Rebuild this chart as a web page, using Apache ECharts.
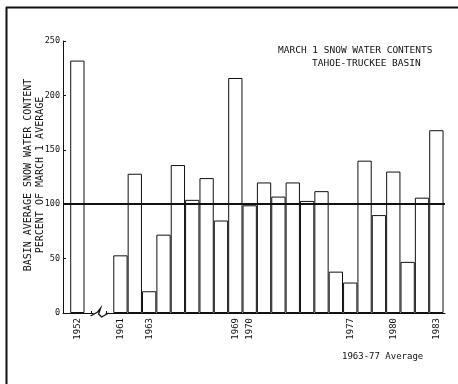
<!DOCTYPE html>
<html>
<head>
<meta charset="utf-8">
<script src="https://cdn.jsdelivr.net/npm/echarts@6/dist/echarts.min.js"></script>
<style>
  html, body { margin: 0; padding: 0; background: #fff; }
  #chart { width: 458px; height: 384px; }
</style>
</head>
<body>
<div id="chart"></div>
<script>
// March 1 snow water content, Tahoe-Truckee basin, percent of 1963-77 average
const years = ['1952', '1961', '1962', '1963', '1964', '1965', '1966', '1967', '1968',
  '1969', '1970', '1971', '1972', '1973', '1974', '1975', '1976', '1977', '1978',
  '1979', '1980', '1981', '1982', '1983'];
const percentOfAverage = [232, 53, 128, 20, 72, 136, 104, 124, 85,
  216, 99, 120, 107, 120, 103, 112, 38, 28, 140,
  90, 130, 47, 106, 168];
const labelledYears = ['1952', '1961', '1963', '1969', '1970', '1977', '1980', '1983'];
const yTicks = [0, 50, 100, 150, 200, 250];
const averageLevel = 100;

// Empty slots left on the axis for the 1952 -> 1961 break
const BREAK_SLOTS = 2;
function slotOf(i) { return i === 0 ? 0 : i + BREAK_SLOTS; }
const slotYear = {};
years.forEach((y, i) => { slotYear[slotOf(i)] = y; });

const FONT = '"DejaVu Sans Mono", monospace';
const INK = '#111';

const chart = echarts.init(document.getElementById('chart'), null, { renderer: 'canvas' });

chart.setOption({
  animation: false,
  backgroundColor: '#fff',
  grid: { left: 63, right: 13, top: 41, bottom: 71, containLabel: false },
  title: [
    { text: 'MARCH 1 SNOW WATER CONTENTS', left: 273, top: 41,
      textStyle: { fontFamily: FONT, fontSize: 9.5, fontWeight: 'normal', color: INK } },
    { text: 'TAHOE-TRUCKEE BASIN', left: 307, top: 54,
      textStyle: { fontFamily: FONT, fontSize: 9.5, fontWeight: 'normal', color: INK } }
  ],
  xAxis: {
    type: 'value',
    min: -1,
    max: 25.6,
    interval: 1,
    splitLine: { show: false },
    axisLine: { show: true, onZero: false, lineStyle: { color: INK, width: 1 } },
    axisTick: { show: true, inside: true, length: 2, lineStyle: { color: INK } },
    axisLabel: {
      rotate: 90,
      margin: 5,
      fontFamily: FONT,
      fontSize: 9,
      color: INK,
      showMaxLabel: false,
      formatter: v => {
        const y = slotYear[v];
        return y && labelledYears.includes(y) ? y : '';
      }
    }
  },
  yAxis: {
    type: 'value',
    min: yTicks[0],
    max: yTicks[yTicks.length - 1],
    interval: yTicks[1] - yTicks[0],
    splitLine: { show: false },
    axisLine: { show: true, onZero: false, lineStyle: { color: INK, width: 1 } },
    axisTick: { show: true, inside: true, length: 3, lineStyle: { color: INK } },
    axisLabel: { margin: 3, fontFamily: FONT, fontSize: 8.5, color: INK }
  },
  series: [{
    type: 'bar',
    barWidth: 14.3,
    data: percentOfAverage.map((v, i) => [slotOf(i), v]),
    itemStyle: { color: '#fff', borderColor: INK, borderWidth: 1 },
    z: 2
  }, {
    // 1963-77 average reference line, drawn above the bars
    type: 'line',
    data: [],
    z: 6,
    markLine: {
      silent: true,
      symbol: 'none',
      label: { show: false },
      lineStyle: { color: INK, width: 2, type: 'solid' },
      data: [{ yAxis: averageLevel }]
    }
  }]
});

// Decorations: break mark on the year axis, axis title, footnote, frame
const breakPt = chart.convertToPixel({ gridIndex: 0 }, [1.55, 0]);
const bx = breakPt[0], by = breakPt[1];
chart.setOption({
  graphic: [
    { type: 'rect', shape: { x: bx - 6, y: by - 2, width: 12, height: 4 },
      style: { fill: '#fff' }, z: 10 },
    { type: 'polyline', shape: { points: [[bx - 9, by + 3], [bx - 2, by - 1], [bx + 1, by - 5],
        [bx - 1, by + 1], [bx + 2, by + 4], [bx + 9, by]] },
      style: { stroke: INK, lineWidth: 1.3, fill: null }, z: 11 },
    { type: 'text', x: 34, y: 175, rotation: Math.PI / 2,
      style: { text: 'BASIN AVERAGE SNOW WATER CONTENT\nPERCENT OF MARCH 1 AVERAGE',
        font: '10px ' + FONT, fill: INK, textAlign: 'center', textVerticalAlign: 'middle',
        lineHeight: 12 } },
    { type: 'text', left: 342, top: 352,
      style: { text: '1963-77 Average', font: '9px ' + FONT, fill: INK } },
    { type: 'line', shape: { x1: 6.5, y1: 7, x2: 6.5, y2: 384 },
      style: { stroke: INK, lineWidth: 2 } },
    { type: 'line', shape: { x1: 6, y1: 7.5, x2: 458, y2: 7.5 },
      style: { stroke: INK, lineWidth: 2 } }
  ]
});
</script>
</body>
</html>
